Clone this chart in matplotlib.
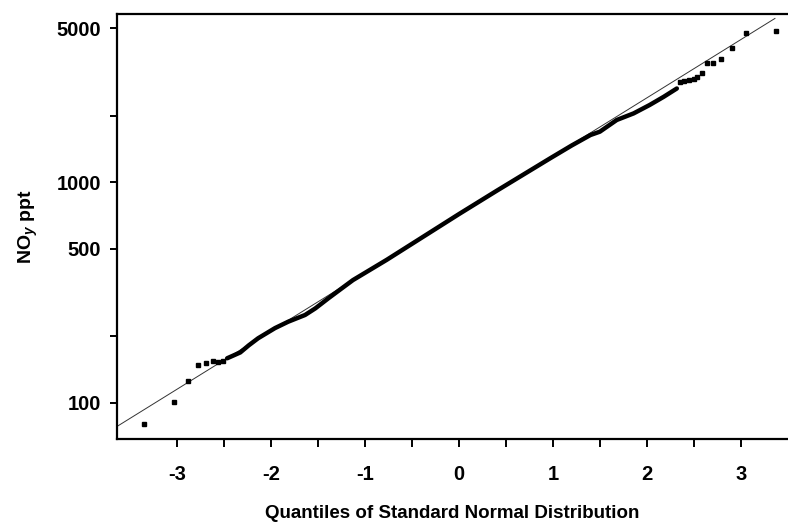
import matplotlib
matplotlib.use("Agg")
import matplotlib.pyplot as plt
from matplotlib.ticker import FixedLocator, NullLocator

plt.rcParams['font.family'] = ['Liberation Sans', 'DejaVu Sans']
plt.rcParams['font.weight'] = 'bold'
plt.rcParams['axes.labelweight'] = 'bold'
plt.rcParams['mathtext.fontset'] = 'custom'
plt.rcParams['mathtext.rm'] = 'Liberation Sans:bold'
plt.rcParams['mathtext.it'] = 'Liberation Sans:italic:bold'

# dense middle part of the quantile plot
band_q = [-2.47, -2.33, -2.24, -2.14, -1.96, -1.82, -1.64, -1.53, -1.39, -1.25,
          -1.13, -0.77, -0.40, 0.0, 0.40, 0.97, 1.20, 1.40, 1.50, 1.68,
          1.86, 2.03, 2.18, 2.32]
band_v = [159, 169, 182, 196, 218, 233, 250, 268, 298, 330,
          360, 445, 560, 718, 915, 1285, 1470, 1640, 1698, 1919,
          2056, 2244, 2445, 2667]

# separate points in the tails
low_q = [-3.36, -3.04, -2.89, -2.78, -2.69, -2.62, -2.57, -2.51]
low_v = [80, 101, 125, 149, 152, 154, 153, 155]
high_q = [2.35, 2.40, 2.45, 2.50, 2.54, 2.59, 2.64, 2.71, 2.79, 2.91, 3.06, 3.38]
high_v = [2860, 2880, 2900, 2940, 3016, 3124, 3466, 3490, 3622, 4083, 4743, 4853]

# reference line end points
line_q = [-3.647, 3.365]
line_v = [77.8, 5546]

fig = plt.figure(figsize=(7.88, 5.23), dpi=100)
ax = fig.add_axes([0.148, 0.1606, 0.852, 0.8126])

ax.plot(line_q, line_v, color='#333333', linewidth=0.7, zorder=2)
ax.plot(band_q, band_v, color='black', linewidth=3.2, solid_capstyle='round', zorder=3)
ax.plot(low_q, low_v, 's', color='black', markersize=3.5, zorder=3)
ax.plot(high_q, high_v, 's', color='black', markersize=3.5, zorder=3)

ax.set_yscale('log')
ax.set_xlim(-3.647, 3.504)
ax.set_ylim(68.4, 5808)

ax.yaxis.set_major_locator(FixedLocator([100, 200, 500, 1000, 2000, 5000]))
ax.set_yticklabels(['100', '', '500', '1000', '', '5000'])
ax.yaxis.set_minor_locator(NullLocator())

ax.set_xticks([-3, -2, -1, 0, 1, 2, 3])
ax.set_xticklabels(['-3', '-2', '-1', '0', '1', '2', '3'])
ax.set_xticks([-2.5, -1.5, -0.5, 0.5, 1.5, 2.5], minor=True)

ax.tick_params(axis='both', which='both', direction='out', width=1.4, labelsize=14.5)
ax.tick_params(axis='x', which='both', length=6, pad=13)
ax.tick_params(axis='y', which='both', length=5, pad=6)

for side in ['left', 'top', 'bottom']:
    ax.spines[side].set_linewidth(1.6)
ax.spines['right'].set_visible(False)

ax.set_xlabel('Quantiles of Standard Normal Distribution', fontsize=13.5, labelpad=14.5)
ax.set_ylabel(r'NO$_{\mathit{y}}$ ppt', fontsize=14, labelpad=12)

fig.savefig('out.png', dpi=100)
